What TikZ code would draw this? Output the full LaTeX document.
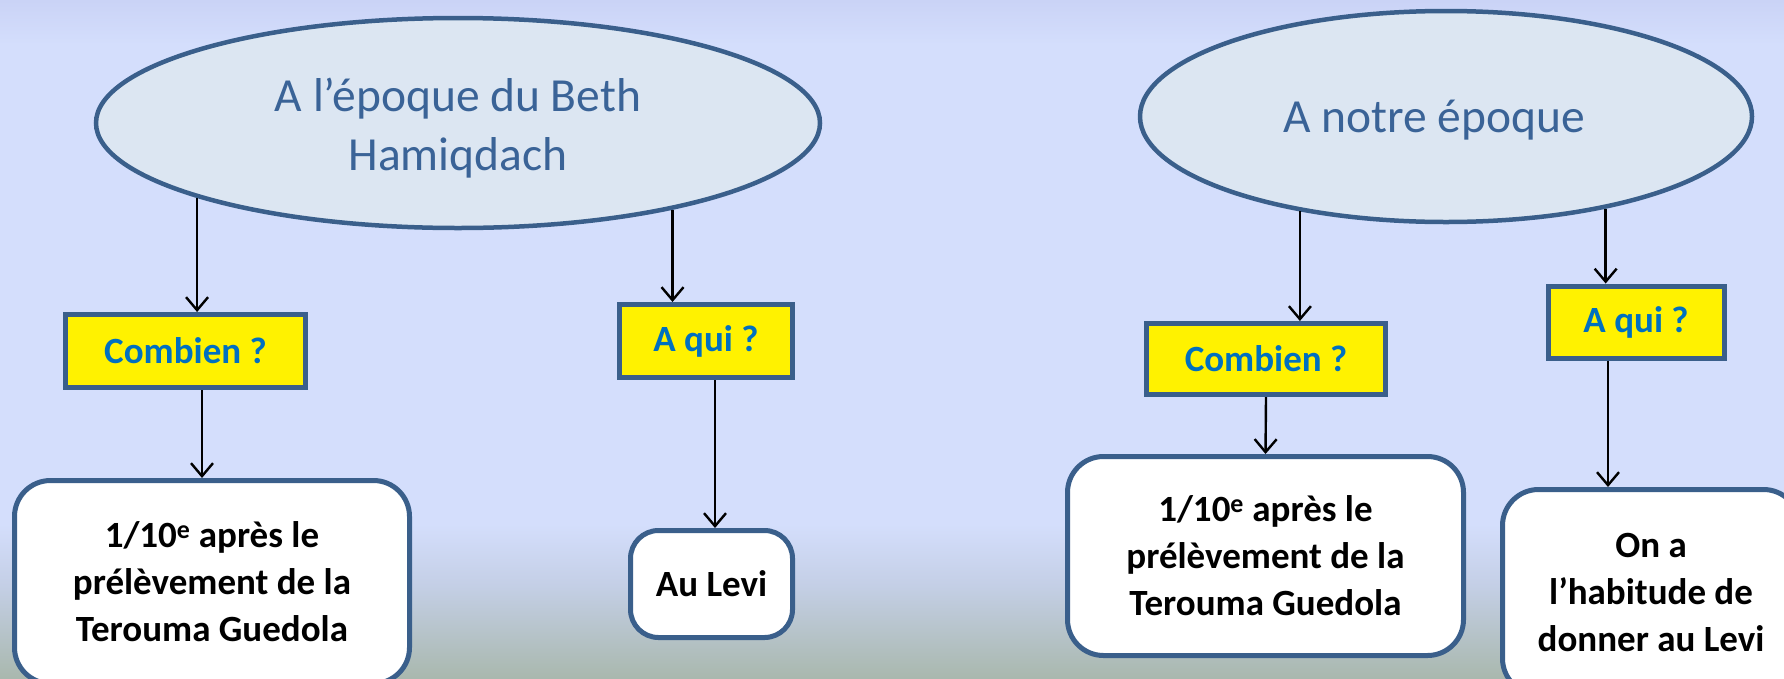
\documentclass[tikz,border=0pt]{standalone}
\usepackage{fontspec}
\setmainfont{Carlito}
\usetikzlibrary{shapes.geometric,arrows.meta,calc}
\definecolor{bordcol}{HTML}{3A5F8B}
\definecolor{ellfill}{HTML}{DCE6F2}
\definecolor{elltext}{HTML}{3A6397}
\definecolor{qcol}{HTML}{0070C0}
\definecolor{bgtop}{HTML}{CAD3F6}
\definecolor{bgmid}{HTML}{D4DEFC}
\definecolor{bgmid2}{HTML}{C4CFE6}
\definecolor{bgbot}{HTML}{A9B8AE}
\tikzset{
  period/.style={ellipse, draw=bordcol, line width=4.5pt, fill=ellfill, inner sep=0pt},
  periodtext/.style={inner sep=0pt, text=elltext, align=center, font=\fontsize{47.5}{59}\selectfont},
  qbox/.style={rectangle, draw=bordcol, line width=5pt, fill=yellow, inner sep=0pt,
    text=qcol, font=\fontsize{37}{44}\selectfont\bfseries},
  abox/.style={rectangle, rounded corners=36pt, draw=bordcol, line width=5pt, fill=white, inner sep=0pt,
    text=black, align=center, font=\fontsize{37}{47}\selectfont\bfseries},
  arr/.style={draw=black, line width=2.4pt, -{Straight Barb[length=13pt,width=22pt,line width=2.4pt]}}
}
\begin{document}
\begin{tikzpicture}[x=1pt,y=-1pt]
\clip (0,0) rectangle (1784,678);
% background
\shade[top color=bgtop, bottom color=bgmid] (0,0) rectangle (1784,45);
\fill[bgmid] (0,45) rectangle (1784,524);
\shade[top color=bgmid, bottom color=bgmid2] (0,524) rectangle (1784,585);
\shade[top color=bgmid2, bottom color=bgbot] (0,585) rectangle (1784,678);

% left half
\node[period, minimum width=724pt, minimum height=210pt] (ell1) at (458,123) {};
\node[periodtext] (ell1t) at ([yshift=-5pt]ell1.center) {A l’époque du Beth\\Hamiqdach};
\node[qbox, minimum width=240pt, minimum height=73pt] (comb1) at (185.5,351) {Combien ?};
\node[qbox, minimum width=173pt, minimum height=73pt] (aqui1) at (706,341) {A qui ?};
\node[abox, minimum width=395pt, minimum height=203pt] (res1) at (212,582) {1/10\textsuperscript{e} après le\\prélèvement de la\\Terouma Guedola};
\node[abox, rounded corners=28pt, minimum width=162pt, minimum height=107pt] (levi1) at (711.5,584) {Au Levi};

\draw[arr] (ell1.196.4) -- (ell1.196.4 |- comb1.north);
\draw[arr] (ell1.338) -- (ell1.338 |- aqui1.north);
\draw[arr] ([xshift=16.5pt]comb1.south) -- ([xshift=16.5pt]comb1.south |- res1.north);
\draw[arr] ([xshift=9pt]aqui1.south) -- ([xshift=9pt]aqui1.south |- levi1.north);

% right half
\node[period, minimum width=612pt, minimum height=211pt] (ell2) at (1446,116.5) {};
\node[periodtext] (ell2t) at ([xshift=-12pt,yshift=-4pt]ell2.center) {A notre époque};
\node[qbox, minimum width=239pt, minimum height=71pt] (comb2) at (1266,359) {Combien ?};
\node[qbox, minimum width=176pt, minimum height=72pt] (aqui2) at (1636,322) {A qui ?};
\node[abox, minimum width=396pt, minimum height=199pt] (res2) at (1265.5,556) {1/10\textsuperscript{e} après le\\prélèvement de la\\Terouma Guedola};
\node[abox, minimum width=297pt, minimum height=205pt] (res3) at (1651,592) {On a\\l’habitude de\\donner au Levi};

\draw[arr] (ell2.213.9) -- (ell2.213.9 |- comb2.north);
\draw[arr] (ell2.330.5) -- (ell2.330.5 |- aqui2.north);
\draw[arr] (comb2.south) -- (res2.north);
\draw[arr] ([xshift=-28pt]aqui2.south) -- ([xshift=-28pt]aqui2.south |- res3.north);
\end{tikzpicture}
\end{document}
